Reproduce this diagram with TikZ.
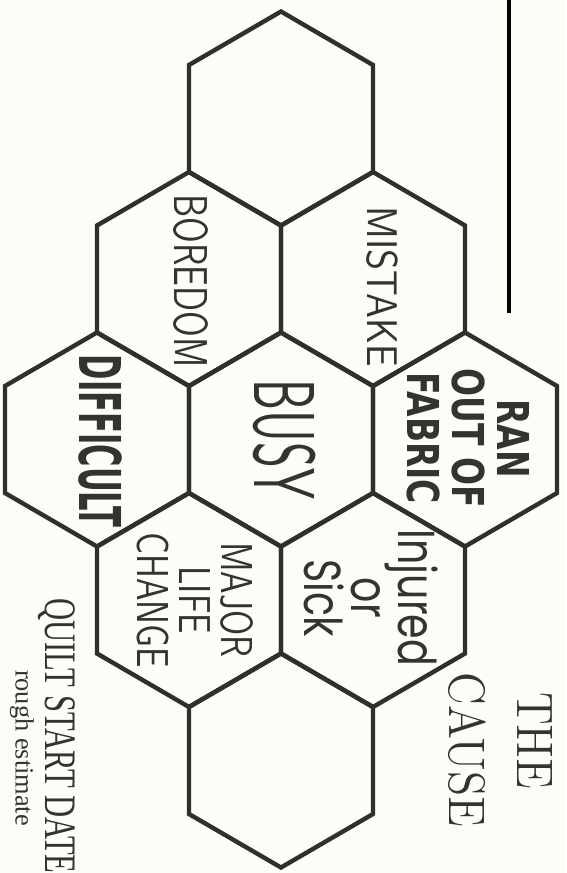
\documentclass[tikz,border=0pt]{standalone}
\usepackage{fontspec}
\usepackage{xcolor}
\usetikzlibrary{calc}
\newfontfamily\boldsans{DejaVu Sans}
\newfontfamily\handfont{Poppins}
\newfontfamily\bookserif{Liberation Serif}
\definecolor{PaperWhite}{RGB}{253,253,248}
\definecolor{HexInk}{RGB}{46,48,42}
\definecolor{TextInk}{RGB}{50,52,46}

\begin{document}
\begin{tikzpicture}[x=0.01cm, y=-0.01cm,
    hexline/.style={draw=HexInk, line width=1.25pt, line join=miter},
    rulestroke/.style={draw=black, line width=1.15pt},
    celltext/.style={rotate=-90, inner sep=0pt, text=TextInk, align=center}
]
\fill[PaperWhite] (0,0) rectangle (566,873);
\useasboundingbox (0,0) rectangle (566,873);

\foreach \cell/\cx/\cy in {topcell/281/118.5, boredomcell/189/279, mistakecell/373/279,
    difficultcell/97/439.5, busycell/281/439.5, fabriccell/465/439.5,
    changecell/189/600, injuredcell/373/600, bottomcell/281/760.5}{
  \coordinate (\cell) at (\cx,\cy);
  \draw[hexline] (\cx,\cy-107) -- (\cx-92,\cy-53.5) -- (\cx-92,\cy+53.5) -- (\cx,\cy+107)
    -- (\cx+92,\cy+53.5) -- (\cx+92,\cy-53.5) -- cycle;
}

\coordinate (ruletop) at (509,0);
\coordinate (rulebottom) at (509,313);
\draw[rulestroke] (ruletop) -- (rulebottom);

\node[celltext, font=\sffamily\fontsize{13.5}{16}\selectfont, xscale=0.75] (boredom) at ($(boredomcell)+(2,2)$) {BOREDOM};
\node[celltext, font=\sffamily\fontsize{12.2}{15}\selectfont, xscale=0.9] (mistake) at ($(mistakecell)+(9,8)$) {MISTAKE};
\node[celltext, font=\sffamily\fontsize{24.6}{30}\selectfont, xscale=0.57] (busy) at ($(busycell)+(4,0)$) {BUSY};
\node[celltext, font=\boldsans\bfseries\fontsize{12.5}{12.8}\selectfont, xscale=0.75] (fabric) at ($(fabriccell)+(3,-1)$) {RAN\\OUT OF\\FABRIC};
\node[celltext, font=\boldsans\bfseries\fontsize{16.4}{19}\selectfont, xscale=0.53] (difficult) at ($(difficultcell)+(3,1.5)$) {DIFFICULT};
\node[celltext, font=\sffamily\fontsize{12.7}{12}\selectfont, xscale=0.78] (change) at ($(changecell)+(6.5,0)$) {MAJOR\\LIFE\\CHANGE};
\node[celltext, font=\handfont\fontsize{14.8}{13.3}\selectfont, xscale=0.76] (injured) at ($(injuredcell)+(-2,-2)$) {Injured\\or\\Sick};

\node[celltext, font=\rmfamily\fontsize{14.6}{17}\selectfont, xscale=0.9] (the) at (535,741) {THE};
\node[celltext, font=\rmfamily\fontsize{14.6}{17}\selectfont, xscale=0.9] (cause) at (467,750) {CAUSE};
\node[celltext, anchor=base west, font=\bookserif\fontsize{12.8}{15}\selectfont, xscale=0.68] (startdate) at (45,598) {QUILT START DATE};
\node[celltext, font=\bookserif\fontsize{7.5}{9}\selectfont] (estimate) at (22,748) {rough estimate};
\end{tikzpicture}
\end{document}
